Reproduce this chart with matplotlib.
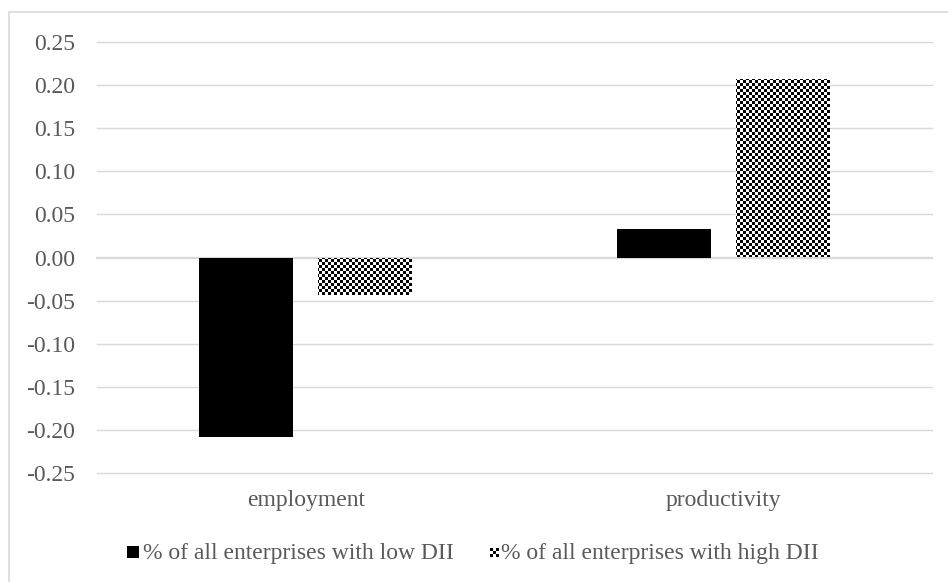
import numpy as np
import matplotlib
matplotlib.use("Agg")
import matplotlib.pyplot as plt
from matplotlib.patches import Rectangle

categories = ["employment", "productivity"]
low_dii = [-0.208, 0.033]
high_dii = [-0.044, 0.207]
series_labels = ["% of all enterprises with low DII", "% of all enterprises with high DII"]
y_ticks = [0.25, 0.20, 0.15, 0.10, 0.05, 0.00, -0.05, -0.10, -0.15, -0.20, -0.25]

TEXT = "#595959"
GRID = "#d9d9d9"
W, H = 948, 582

plt.rcParams["font.family"] = ["Liberation Serif", "DejaVu Serif"]

fig = plt.figure(figsize=(W / 100, H / 100), dpi=100)
ax = fig.add_axes([97 / W, 1 - 473 / H, (932 - 97) / W, (473 - 42) / H])

x = np.arange(len(categories))
width = 0.225
offset = 0.1425

ax.bar(x - offset, low_dii, width, color="black", zorder=3)
high_bars = ax.bar(x + offset, high_dii, width, color="none", zorder=3)

# checkerboard fill, 3 px cells, clipped to each bar
cell = 3
nx, ny = (932 - 97) // cell, (473 - 42) // cell
checker = (np.add.outer(np.arange(ny), np.arange(nx)) % 2).astype(float)
for bar in high_bars:
    im = ax.imshow(checker, cmap="gray", extent=[-0.5, 1.5, -0.25, 0.25],
                   aspect="auto", interpolation="nearest", zorder=3, vmin=0, vmax=1)
    im.set_clip_path(bar)
ax.set_xlim(-0.5, len(categories) - 0.5)
ax.set_ylim(-0.25, 0.25)

ax.set_yticks(y_ticks)
ax.set_yticklabels([f"{v:.2f}" for v in y_ticks])
ax.set_xticks(x)
ax.set_xticklabels(categories)
ax.tick_params(axis="y", length=0, pad=16, labelsize=17, labelcolor=TEXT)
ax.tick_params(axis="x", length=0, pad=12, labelsize=17, labelcolor=TEXT)

# gridlines, unclipped so the outer ones show fully
for v in y_ticks:
    lw = 1.6 if v == 0 else 1.0
    ax.axhline(v, color=GRID, linewidth=lw, zorder=1, clip_on=False)
for side in ["top", "right", "left", "bottom"]:
    ax.spines[side].set_visible(False)

# outer chart border (only left/top visible in the crop)
fig.add_artist(Rectangle((9 / W, -0.1), 1.2, 1 - 12 / H + 0.1, transform=fig.transFigure,
                         facecolor="none", edgecolor=GRID, linewidth=1.2))

# legend
ly = 1 - 553 / H
fig.add_artist(Rectangle((127 / W, 1 - 558 / H), 12 / W, 12 / H, transform=fig.transFigure,
                         facecolor="black", edgecolor="none"))
fig.text(143 / W, ly, series_labels[0], fontsize=17, color=TEXT, va="center", ha="left")
small = (np.add.outer(np.arange(3), np.arange(3)) % 2).astype(float)
small = np.kron(small, np.ones((3, 3)))
fig.figimage(small, xo=490, yo=H - 557, cmap="gray", vmin=0, vmax=1, origin="upper")
fig.text(501 / W, ly, series_labels[1], fontsize=17, color=TEXT, va="center", ha="left")

fig.savefig("out.png", dpi=100)
